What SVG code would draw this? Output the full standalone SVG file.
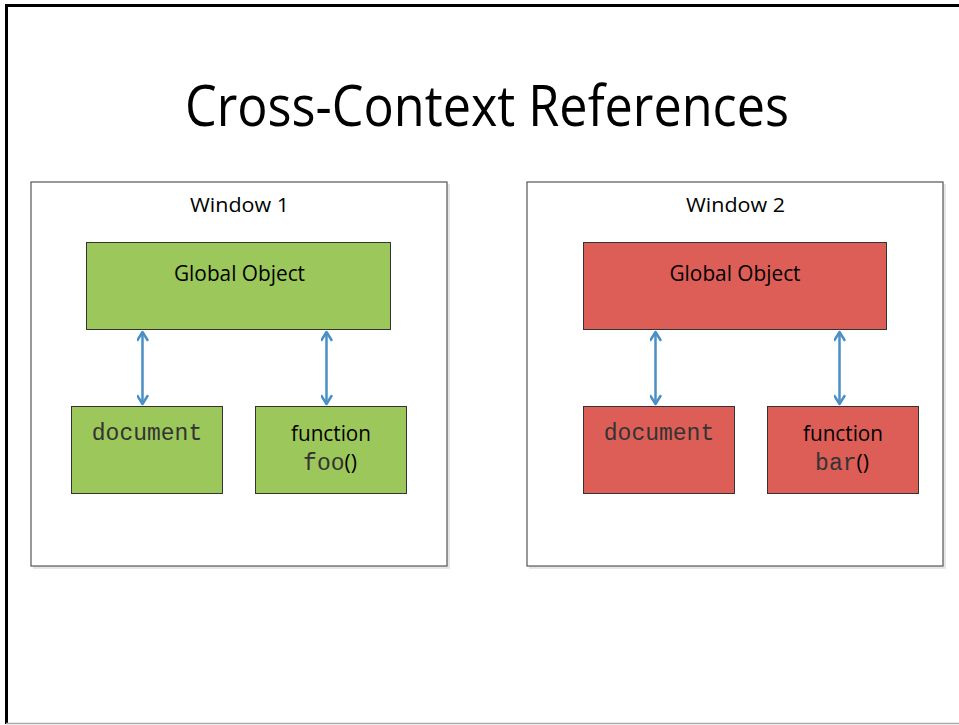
<svg xmlns="http://www.w3.org/2000/svg" width="959" height="725" viewBox="0 0 959 725">
<style>
.win{fill:#fff;stroke:#555;stroke-width:1.2}
.shadow{fill:#e6e6e6}
.g{fill:#9cc75b;stroke:#333;stroke-width:1}
.r{fill:#dd5e57;stroke:#333;stroke-width:1}
.sans{font-family:"Open Sans","Liberation Sans",sans-serif;fill:#000;text-anchor:middle}
.mono{font-family:"Liberation Mono","DejaVu Sans Mono",monospace;fill:#333;font-size:23px}
.conn{stroke:#4a8fc6;stroke-width:2.5;fill:none}
.head{stroke:#4a8fc6;stroke-width:2.5;fill:none;stroke-linecap:round;stroke-linejoin:round}
</style>
<defs>
<marker id="ah" viewBox="0 0 12 12" refX="10" refY="6" markerWidth="12" markerHeight="12" markerUnits="userSpaceOnUse" orient="auto-start-reverse">
<path d="M2,1 L10,6 L2,11" class="head"/>
</marker>
</defs>
<rect width="959" height="725" fill="#fff"/>
<path d="M6.5,724 V5.5 H959" fill="none" stroke="#000" stroke-width="3"/>
<line x1="6" y1="723.5" x2="959" y2="723.5" stroke="#aaa" stroke-width="1.5"/>
<text class="sans" x="487" y="126" font-size="56" textLength="604" lengthAdjust="spacingAndGlyphs">Cross-Context References</text>

<g id="window1">
<rect class="shadow" x="33" y="184" width="417" height="385"/>
<rect class="win" x="31" y="182" width="416" height="384"/>
<text class="sans" x="239.5" y="212" font-size="20" textLength="99" lengthAdjust="spacingAndGlyphs">Window 1</text>
</g>
<g id="window2">
<rect class="shadow" x="529" y="184" width="417" height="385"/>
<rect class="win" x="527" y="182" width="416" height="384"/>
<text class="sans" x="735.5" y="212" font-size="20" textLength="99" lengthAdjust="spacingAndGlyphs">Window 2</text>
</g>

<g id="global1">
<rect class="g" x="86.5" y="242.5" width="304" height="87"/>
<text class="sans" x="239.5" y="281" font-size="21" textLength="131" lengthAdjust="spacingAndGlyphs">Global Object</text>
</g>
<g id="document1">
<rect class="g" x="71.5" y="406.5" width="151" height="87"/>
<text class="mono" x="147" y="440" text-anchor="middle">document</text>
</g>
<g id="function1">
<rect class="g" x="255.5" y="406.5" width="151" height="87"/>
<text class="sans" x="331" y="441" font-size="21" textLength="80" lengthAdjust="spacingAndGlyphs">function</text>
<text x="330" y="470" text-anchor="middle"><tspan class="mono">foo</tspan><tspan font-family="Open Sans,Liberation Sans,sans-serif" font-size="21" fill="#000">()</tspan></text>
</g>

<g id="global2">
<rect class="r" x="583.5" y="242.5" width="303" height="87"/>
<text class="sans" x="735" y="281" font-size="21" textLength="131" lengthAdjust="spacingAndGlyphs">Global Object</text>
</g>
<g id="document2">
<rect class="r" x="583.5" y="406.5" width="151" height="87"/>
<text class="mono" x="659" y="440" text-anchor="middle">document</text>
</g>
<g id="function2">
<rect class="r" x="767.5" y="406.5" width="151" height="87"/>
<text class="sans" x="843" y="441" font-size="21" textLength="80" lengthAdjust="spacingAndGlyphs">function</text>
<text x="842" y="470" text-anchor="middle"><tspan class="mono">bar</tspan><tspan font-family="Open Sans,Liberation Sans,sans-serif" font-size="21" fill="#000">()</tspan></text>
</g>

<g id="connectors">
<line class="conn" x1="142.5" y1="332" x2="142.5" y2="404" marker-start="url(#ah)" marker-end="url(#ah)"/>
<line class="conn" x1="326.5" y1="332" x2="326.5" y2="404" marker-start="url(#ah)" marker-end="url(#ah)"/>
<line class="conn" x1="655.5" y1="332" x2="655.5" y2="404" marker-start="url(#ah)" marker-end="url(#ah)"/>
<line class="conn" x1="839.5" y1="332" x2="839.5" y2="404" marker-start="url(#ah)" marker-end="url(#ah)"/>
</g>
</svg>
